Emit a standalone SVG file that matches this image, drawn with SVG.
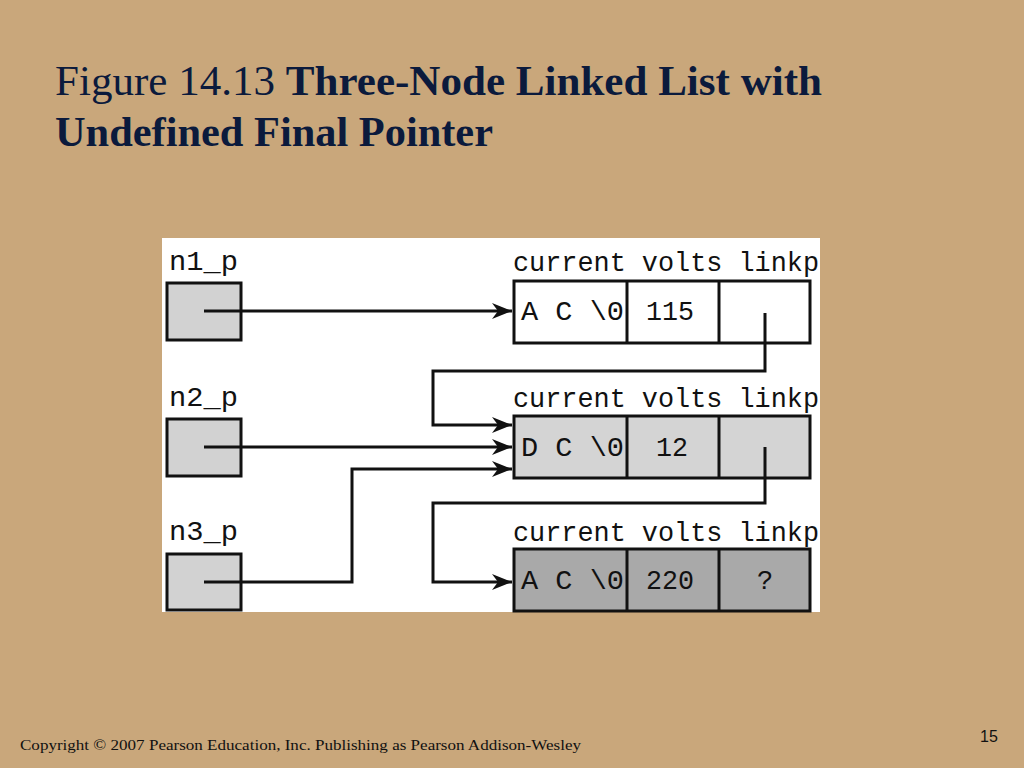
<svg xmlns="http://www.w3.org/2000/svg" width="1024" height="768" viewBox="0 0 1024 768">
<style>
.title{font-family:"Liberation Serif",serif;font-size:43px;fill:#0b1a3c}
.mono{font-family:"Liberation Mono",monospace;font-size:27px;fill:#111}
.box{stroke:#111;stroke-width:3}
.wire{fill:none;stroke:#111;stroke-width:3}
.foot{font-family:"Liberation Serif",serif;font-size:15px;fill:#111}
</style>
<defs>
<marker id="ah" markerWidth="22" markerHeight="16" refX="20" refY="8" orient="auto" markerUnits="userSpaceOnUse">
<path d="M0,0 L20,8 L0,16 L6,8 Z" fill="#111"/>
</marker>
</defs>
<rect x="0" y="0" width="1024" height="768" fill="#C9A77B"/>
<text class="title" x="55" y="95" textLength="767" lengthAdjust="spacingAndGlyphs">Figure 14.13  <tspan font-weight="bold">Three-Node Linked List with</tspan></text>
<text class="title" x="55" y="146" font-weight="bold" textLength="438" lengthAdjust="spacingAndGlyphs">Undefined Final Pointer</text>
<rect x="162" y="238" width="658" height="374" fill="#fff"/>

<g id="n1_p">
<text class="mono" x="169" y="270" textLength="69" lengthAdjust="spacingAndGlyphs">n1_p</text>
<rect class="box" x="167" y="283" width="74" height="57" fill="#d2d2d2"/>
</g>
<g id="n2_p">
<text class="mono" x="169" y="406" textLength="69" lengthAdjust="spacingAndGlyphs">n2_p</text>
<rect class="box" x="167" y="419" width="74" height="57" fill="#d2d2d2"/>
</g>
<g id="n3_p">
<text class="mono" x="169" y="540" textLength="69" lengthAdjust="spacingAndGlyphs">n3_p</text>
<rect class="box" x="167" y="554" width="74" height="56" fill="#d2d2d2"/>
</g>

<g id="node1">
<text class="mono" x="513" y="271" textLength="306" lengthAdjust="spacingAndGlyphs">current volts linkp</text>
<rect class="box" x="514" y="281" width="296" height="62" fill="#fff"/>
<line class="box" x1="627" y1="281" x2="627" y2="343"/>
<line class="box" x1="719" y1="281" x2="719" y2="343"/>
<text class="mono" x="521" y="320" textLength="103" lengthAdjust="spacingAndGlyphs">A C \0</text>
<text class="mono" x="646" y="320" textLength="48" lengthAdjust="spacingAndGlyphs">115</text>
</g>
<g id="node2">
<text class="mono" x="513" y="407" textLength="306" lengthAdjust="spacingAndGlyphs">current volts linkp</text>
<rect class="box" x="514" y="416" width="296" height="62" fill="#d4d4d4"/>
<line class="box" x1="627" y1="416" x2="627" y2="478"/>
<line class="box" x1="719" y1="416" x2="719" y2="478"/>
<text class="mono" x="521" y="456" textLength="103" lengthAdjust="spacingAndGlyphs">D C \0</text>
<text class="mono" x="656" y="456" textLength="32" lengthAdjust="spacingAndGlyphs">12</text>
</g>
<g id="node3">
<text class="mono" x="513" y="541" textLength="306" lengthAdjust="spacingAndGlyphs">current volts linkp</text>
<rect class="box" x="514" y="549" width="296" height="62" fill="#a9a9a9"/>
<line class="box" x1="627" y1="549" x2="627" y2="611"/>
<line class="box" x1="719" y1="549" x2="719" y2="611"/>
<text class="mono" x="521" y="589" textLength="103" lengthAdjust="spacingAndGlyphs">A C \0</text>
<text class="mono" x="646" y="589" textLength="48" lengthAdjust="spacingAndGlyphs">220</text>
<text class="mono" x="765" y="589" text-anchor="middle">?</text>
</g>

<g id="connectors">
<path class="wire" d="M204,311 H512" marker-end="url(#ah)"/>
<path class="wire" d="M204,447 H512" marker-end="url(#ah)"/>
<path class="wire" d="M204,582 H352 V469 H512" marker-end="url(#ah)"/>
<path class="wire" d="M765,313 V371 H433 V425 H512" marker-end="url(#ah)"/>
<path class="wire" d="M765,447 V503 H433 V582 H512" marker-end="url(#ah)"/>
</g>

<text class="foot" x="20" y="750" textLength="561" lengthAdjust="spacingAndGlyphs">Copyright © 2007 Pearson Education, Inc. Publishing as Pearson Addison-Wesley</text>
<text x="980" y="742" font-family="Liberation Sans, sans-serif" font-size="16" fill="#111">15</text>
</svg>
